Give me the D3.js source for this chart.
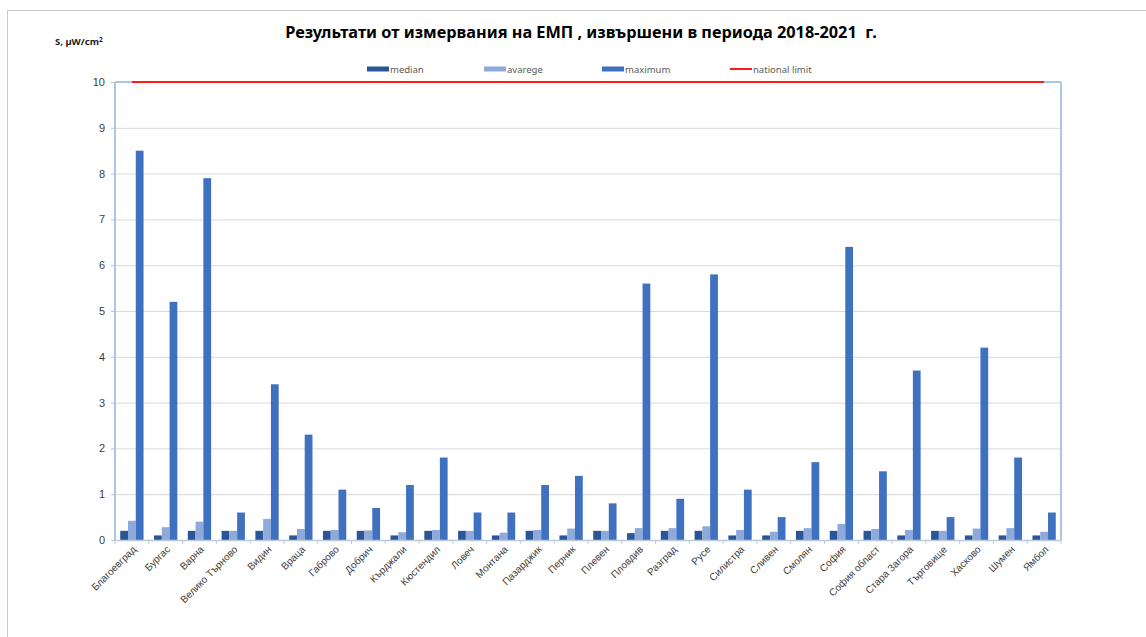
<!DOCTYPE html>
<html>
<head>
<meta charset="utf-8">
<script src="https://cdn.jsdelivr.net/npm/d3@7"></script>
<style>
  html, body { margin: 0; padding: 0; background: #fff; }
  svg { display: block; font-family: "Noto Sans", "Open Sans", sans-serif; }
</style>
</head>
<body>
<svg id="chart" width="1146" height="637"></svg>
<script>
// Regions (districts) of Bulgaria
const regions = ["Благоевград", "Бургас", "Варна", "Велико Търново", "Видин", "Враца", "Габрово", "Добрич",
  "Кърджали", "Кюстендил", "Ловеч", "Монтана", "Пазарджик", "Перник", "Плевен", "Пловдив", "Разград",
  "Русе", "Силистра", "Сливен", "Смолян", "София", "София област", "Стара Загора", "Търговище",
  "Хасково", "Шумен", "Ямбол"];

// Power flux density, µW/cm²
const medianVals = [0.2, 0.1, 0.2, 0.2, 0.2, 0.1, 0.2, 0.2, 0.1, 0.2, 0.2, 0.1, 0.2, 0.1, 0.2, 0.15, 0.2,
  0.2, 0.1, 0.1, 0.2, 0.2, 0.2, 0.1, 0.2, 0.1, 0.1, 0.1];
const averageVals = [0.42, 0.28, 0.4, 0.2, 0.46, 0.24, 0.22, 0.21, 0.17, 0.22, 0.2, 0.16, 0.22, 0.25, 0.2, 0.26, 0.26,
  0.3, 0.22, 0.18, 0.26, 0.35, 0.24, 0.22, 0.2, 0.25, 0.26, 0.18];
const maximumVals = [8.5, 5.2, 7.9, 0.6, 3.4, 2.3, 1.1, 0.7, 1.2, 1.8, 0.6, 0.6, 1.2, 1.4, 0.8, 5.6, 0.9,
  5.8, 1.1, 0.5, 1.7, 6.4, 1.5, 3.7, 0.5, 4.2, 1.8, 0.6];
const nationalLimit = 10;
const yTicks = [0, 1, 2, 3, 4, 5, 6, 7, 8, 9, 10];

const seriesNames = ["median", "avarege", "maximum"];
const seriesValues = [medianVals, averageVals, maximumVals];
const seriesColors = ["#2c5597", "#8eaadb", "#4070c0"];
const limitColor = "#ff1a1a";

const svg = d3.select("#chart");
const margin = { left: 115, right: 85, top: 82, bottom: 97 };
const W = 1146, H = 637;
const plotW = W - margin.left - margin.right;
const plotH = H - margin.top - margin.bottom;

// outer frame (left and top edges)
svg.append("line").attr("x1", 7.5).attr("x2", 7.5).attr("y1", 10.5).attr("y2", H)
  .attr("stroke", "#c8c8c8").attr("stroke-width", 1);
svg.append("line").attr("x1", 7.5).attr("x2", W).attr("y1", 10.5).attr("y2", 10.5)
  .attr("stroke", "#c8c8c8").attr("stroke-width", 1);

const x = d3.scaleBand().domain(regions).range([0, plotW]).paddingInner(0).paddingOuter(0);
const inner = d3.scaleBand().domain(seriesNames).range([x.bandwidth() * 0.155, x.bandwidth() * 0.845]);
const y = d3.scaleLinear().domain([0, 10]).range([plotH, 0]);

const g = svg.append("g").attr("transform", `translate(${margin.left},${margin.top})`);

// horizontal gridlines
g.append("g").selectAll("line").data(yTicks.filter(t => t > 0 && t < 10)).join("line")
  .attr("x1", 0).attr("x2", plotW)
  .attr("y1", d => y(d) + 0.5).attr("y2", d => y(d) + 0.5)
  .attr("stroke", "#d9d9d9").attr("stroke-width", 1);

// bars
seriesNames.forEach((name, si) => {
  g.append("g").selectAll("rect").data(seriesValues[si]).join("rect")
    .attr("x", (d, i) => x(regions[i]) + inner(name))
    .attr("width", inner.bandwidth())
    .attr("y", d => y(d))
    .attr("height", d => y(0) - y(d))
    .attr("fill", seriesColors[si]);
});

// plot border: left, top and right edges
const borderColor = "#a9c8e8";
g.append("line").attr("x1", 0).attr("x2", 0).attr("y1", 0).attr("y2", plotH)
  .attr("stroke", borderColor).attr("stroke-width", 2);
g.append("line").attr("x1", plotW).attr("x2", plotW).attr("y1", 0).attr("y2", plotH)
  .attr("stroke", borderColor).attr("stroke-width", 2);
g.append("line").attr("x1", 0).attr("x2", plotW).attr("y1", 0).attr("y2", 0)
  .attr("stroke", borderColor).attr("stroke-width", 2);

// national limit line
g.append("line")
  .attr("x1", x(regions[0]) + x.bandwidth() / 2)
  .attr("x2", x(regions[regions.length - 1]) + x.bandwidth() / 2)
  .attr("y1", y(nationalLimit)).attr("y2", y(nationalLimit))
  .attr("stroke", limitColor).attr("stroke-width", 2);

// y axis
const yAxis = g.append("g").call(d3.axisLeft(y).tickValues(yTicks).tickSize(4).tickPadding(6).tickFormat(d3.format("d")));
yAxis.select(".domain").remove();
yAxis.selectAll(".tick line").attr("stroke", "#c0c0c0");
yAxis.selectAll("text").attr("fill", "#404040").style("font-size", "11px");

// x axis
const xAxis = g.append("g").attr("transform", `translate(0,${plotH})`)
  .call(d3.axisBottom(x).tickSize(0).tickPadding(0));
xAxis.select(".domain").attr("stroke", "#bccbdc").attr("stroke-width", 1.5);
xAxis.selectAll(".tick text")
  .attr("fill", "#404040").style("font-size", "10px")
  .attr("text-anchor", "end")
  .attr("dy", 0)
  .attr("transform", "translate(5,10) rotate(-45)");
// boundary tick marks between categories
xAxis.append("g").selectAll("line").data(d3.range(regions.length + 1)).join("line")
  .attr("x1", i => i * x.step()).attr("x2", i => i * x.step())
  .attr("y1", 0).attr("y2", 4)
  .attr("stroke", "#bccbdc");

// title
svg.append("text").attr("x", 581).attr("y", 38).attr("text-anchor", "middle")
  .style("font-size", "16.3px").style("font-weight", "bold").attr("fill", "#000")
  .attr("xml:space", "preserve").style("white-space", "pre")
  .text("Результати от измервания на ЕМП , извършени в периода 2018-2021  г.");

// y axis title
const yt = svg.append("text").attr("x", 55).attr("y", 45)
  .style("font-size", "9.5px").style("font-weight", "bold").attr("fill", "#222");
yt.append("tspan").text("S, µW/cm");
yt.append("tspan").attr("dy", -3).style("font-size", "6.5px").text("2");

// legend
const legendItems = [
  { name: "median", color: seriesColors[0], type: "rect", x: 367 },
  { name: "avarege", color: seriesColors[1], type: "rect", x: 484 },
  { name: "maximum", color: seriesColors[2], type: "rect", x: 602 },
  { name: "national limit", color: limitColor, type: "line", x: 730 }
];
const lg = svg.append("g");
legendItems.forEach(it => {
  const item = lg.append("g").attr("transform", `translate(${it.x},69)`);
  if (it.type === "rect") {
    item.append("rect").attr("x", 0).attr("y", -2.5).attr("width", 22).attr("height", 5).attr("fill", it.color);
  } else {
    item.append("line").attr("x1", 0).attr("x2", 22).attr("y1", 0).attr("y2", 0)
      .attr("stroke", it.color).attr("stroke-width", 2);
  }
  item.append("text").attr("x", 23).attr("y", 3.5).style("font-size", "9.5px").attr("fill", "#595959").text(it.name);
});
</script>
</body>
</html>
